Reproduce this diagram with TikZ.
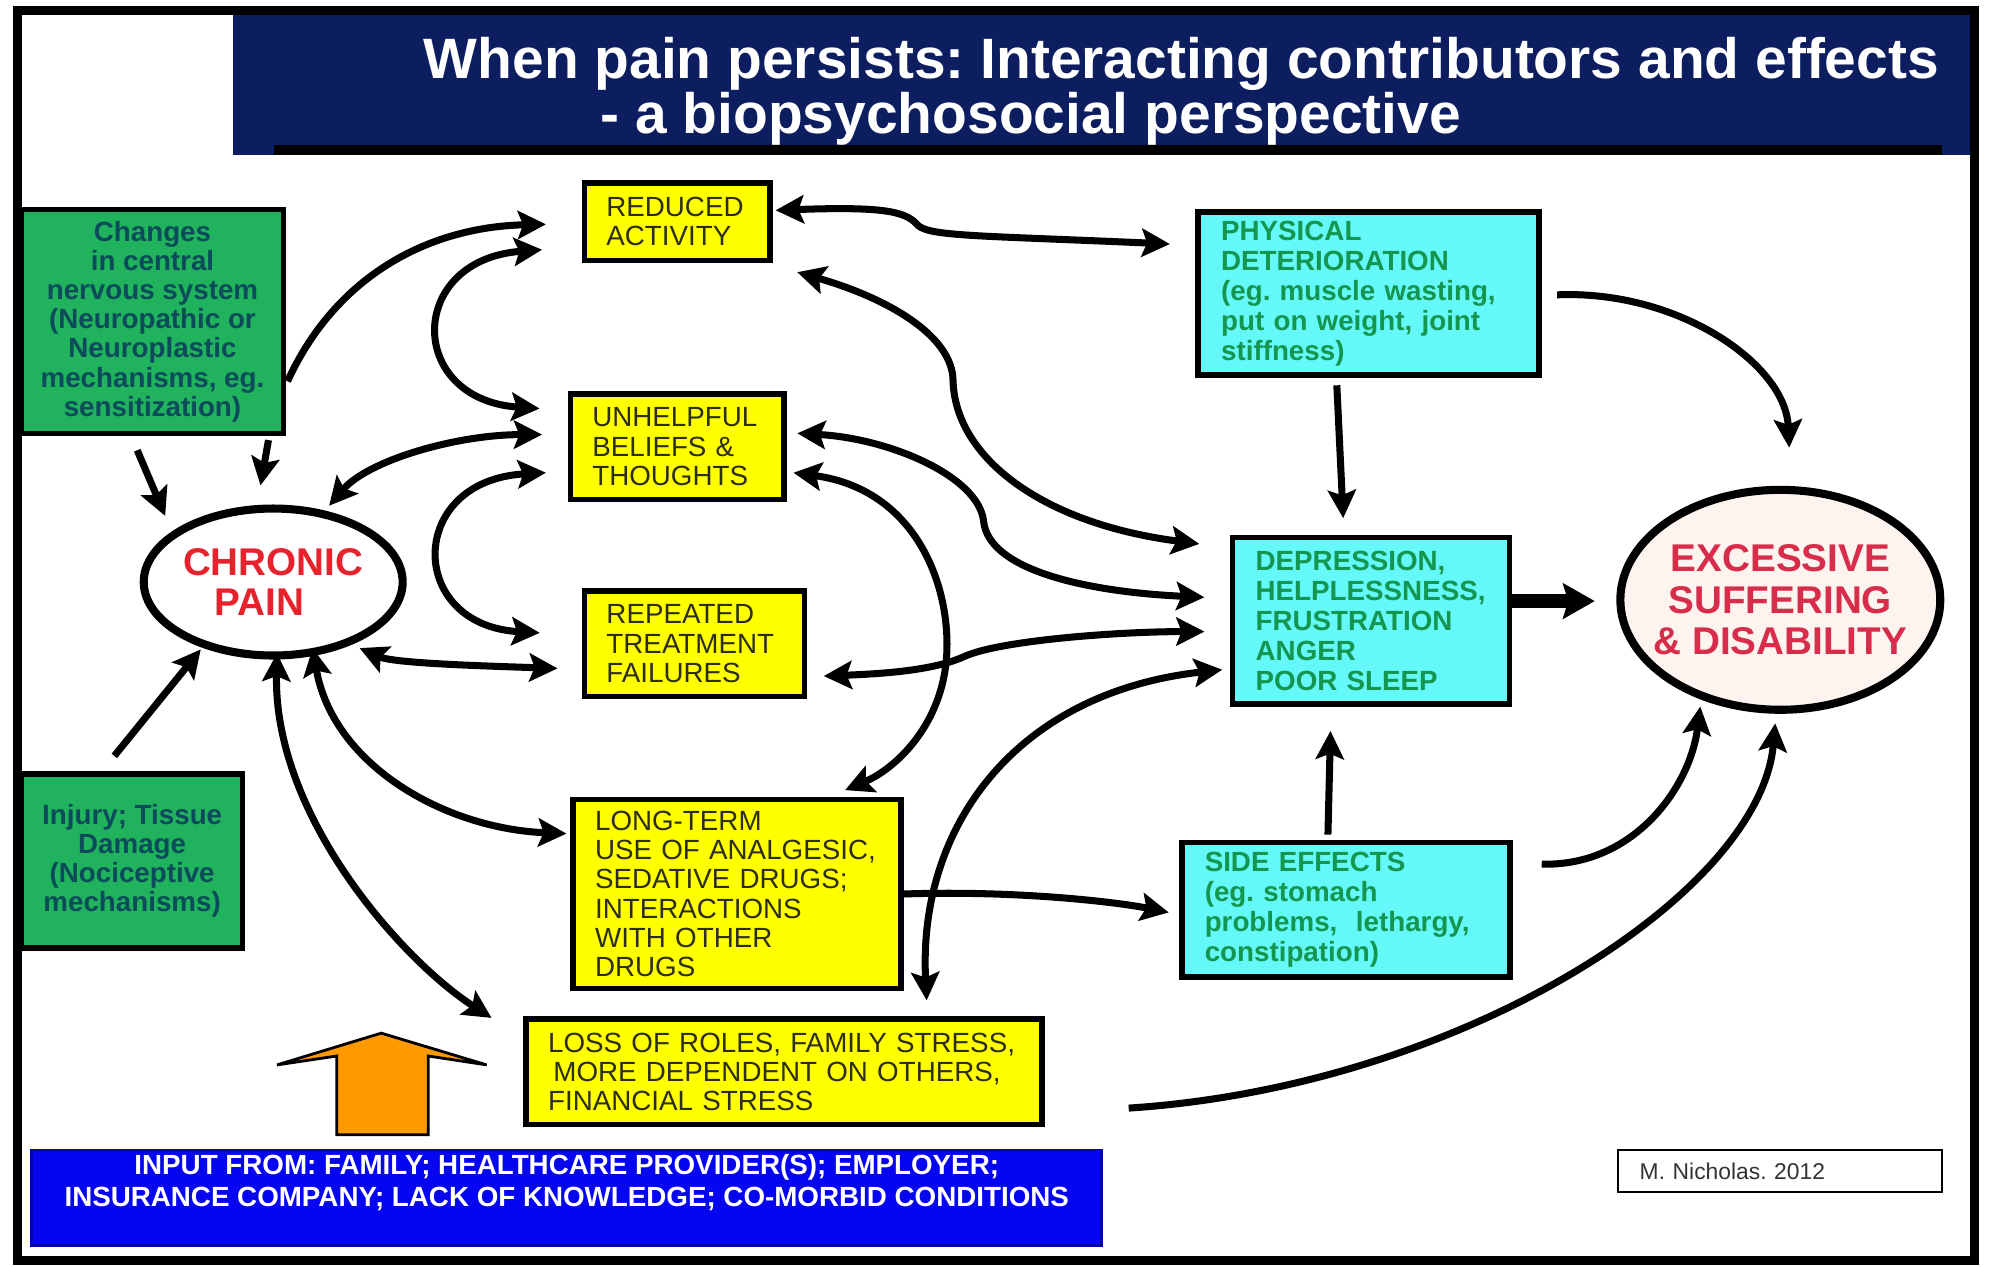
\documentclass[tikz,border=0pt]{standalone}
\usepackage{fontspec}
\setmainfont{Liberation Sans}
\usepackage{xcolor}
\usetikzlibrary{
    shapes.geometric,
    arrows.meta,
    calc
}
\frenchspacing

\definecolor{bannerblue}{RGB}{12,30,95}
\definecolor{boxgreen}{RGB}{32,178,92}
\definecolor{gtext}{RGB}{12,75,90}
\definecolor{boxyellow}{RGB}{255,255,0}
\definecolor{ytext}{RGB}{45,45,25}
\definecolor{boxcyan}{RGB}{100,248,248}
\definecolor{ctext}{RGB}{20,150,80}
\definecolor{painred}{RGB}{230,35,45}
\definecolor{excessred}{RGB}{215,45,75}
\definecolor{excessfill}{RGB}{253,244,240}
\definecolor{inputblue}{RGB}{5,5,240}
\definecolor{orangefill}{RGB}{255,153,0}

\begin{document}
\begin{tikzpicture}[
                x=0.01271cm, y=-0.01271cm,
                >={Stealth[length=8pt, width=8pt, inset=1.5pt]},
                ybox/.style={draw, line width=1.6pt, fill=boxyellow, text=ytext, align=left, inner xsep=0.22cm, inner ysep=0pt, font=\fontsize{7.9}{8.3}\selectfont},
                cbox/.style={draw, line width=1.6pt, fill=boxcyan, text=ctext, align=left, inner xsep=0.23cm, inner ysep=0pt, font=\bfseries\fontsize{7.9}{8.5}\selectfont},
                gbox/.style={draw, line width=1.6pt, fill=boxgreen, text=gtext, align=center, inner sep=0pt, font=\bfseries\fontsize{7.9}{8.3}\selectfont},
                oval/.style={draw, ellipse, line width=2.3pt, inner sep=0pt, font=\bfseries\fontsize{11}{11.6}\selectfont},
                arrow/.style={->, line width=2pt},
                darrow/.style={<->, line width=2pt}
            ]
                \useasboundingbox (0,0) rectangle (1566,997);
                \fill[white] (0,0) rectangle (1566,997);

                % Title banner
                \fill[bannerblue] (183,10) rectangle (1554,122);
                \fill[black] (216,114) rectangle (1528,122);
                \node[anchor=base west, inner sep=0pt, text=white, font=\bfseries\fontsize{16.2}{19}\selectfont] (title) at (333,62) {When pain persists: Interacting contributors and effects};
                \node[anchor=base west, inner sep=0pt, text=white, font=\bfseries\fontsize{16.2}{19}\selectfont] (subtitle) at (472,105) {- a biopsychosocial perspective};

                % Contributors
                \node[gbox, minimum width=2.62cm, minimum height=2.24cm] (cns) at (120,253) {Changes\\in central\\nervous system\\(Neuropathic or\\Neuroplastic\\mechanisms, eg.\\sensitization)};
                \node[gbox, minimum width=2.21cm, minimum height=1.74cm] (injury) at (104,677.5) {Injury; Tissue\\Damage\\(Nociceptive\\mechanisms)};

                % Chronic pain
                \node[oval, fill=white, text=painred, align=left, minimum width=2.59cm, minimum height=1.47cm] (chronic) at (215,458) {CHRONIC\\\hspace*{9pt}PAIN};

                % Yellow boxes
                \node[ybox, text width=1.42cm, minimum height=0.775cm] (reduced) at (533,174.5) {REDUCED\\ACTIVITY};
                \node[ybox, text width=1.70cm, minimum height=1.055cm] (unhelpful) at (533,351.5) {UNHELPFUL\\BELIEFS \&\\THOUGHTS};
                \node[ybox, text width=1.76cm, minimum height=1.055cm] (repeated) at (546.5,506.5) {REPEATED\\TREATMENT\\FAILURES};
                \node[ybox, text width=2.84cm, minimum height=1.894cm] (longterm) at (580,703.5) {LONG-TERM\\USE OF ANALGESIC,\\SEDATIVE DRUGS;\\INTERACTIONS\\WITH OTHER\\DRUGS};
                \node[ybox, text width=4.72cm, minimum height=1.055cm] (loss) at (617,843.5) {LOSS OF ROLES, FAMILY STRESS,\\\hspace*{1.5pt}MORE DEPENDENT ON OTHERS,\\FINANCIAL STRESS};

                % Cyan boxes
                \node[cbox, text width=2.95cm, minimum height=1.627cm] (physical) at (1077,231) {PHYSICAL\\DETERIORATION\\(eg. muscle wasting,\\put on weight, joint\\stiffness)};
                \node[cbox, text width=2.31cm, minimum height=1.665cm] (depression) at (1079,488.5) {DEPRESSION,\\HELPLESSNESS,\\FRUSTRATION\\ANGER\\POOR SLEEP};
                \node[cbox, text width=2.82cm, minimum height=1.347cm] (side) at (1059,716) {SIDE EFFECTS\\(eg. stomach\\problems, \ lethargy,\\constipation)};

                % Outcome
                \node[oval, fill=excessfill, minimum width=3.2cm, minimum height=2.2cm] (excess) at (1401,472) {};
                \node[align=center, text=excessred, font=\bfseries\fontsize{11}{11.75}\selectfont] (excesstxt) at (excess.center) {EXCESSIVE\\SUFFERING\\\& DISABILITY};

                % Input
                \node[draw=inputblue!75!black, line width=0.8pt, fill=inputblue, minimum width=10.7cm, minimum height=0.953cm] (input) at (446,942.5) {};
                \node[align=center, text=white, font=\bfseries\fontsize{7.9}{9}\selectfont] (inputtxt) at (446,930.5) {INPUT FROM: FAMILY; HEALTHCARE PROVIDER(S); EMPLOYER;\\INSURANCE COMPANY; LACK OF KNOWLEDGE; CO-MORBID CONDITIONS};
                \draw[fill=orangefill, line width=0.8pt] (300,813) -- (383,838) -- (337,831) -- (337,893) -- (265,893) -- (265,831) -- (218,838) -- cycle;

                % Credit
                \node[draw, line width=0.6pt, fill=white, text width=2.8cm, inner xsep=0.22cm, minimum height=0.42cm, align=left, text=black!80, font=\fontsize{6.5}{7}\selectfont] (credit) at (1400.5,921.5) {M. Nicholas. 2012};

                % Left side arrows
                \draw[arrow] ($(cns.east)+(1,47)$) .. controls +(39,-85) and +(-90,2) .. ($(reduced.west)+(-28,2)$);
                \draw[arrow] ($(cns.south east)+(-14,3)$) -- ($(chronic.north)+(-10,-15)$);
                \draw[arrow] ($(cns.south)+(-12,11)$) -- ($(chronic.center)+(-85,-52)$);
                \draw[arrow] ($(injury.north)+(-14,-12)$) -- ($(chronic.center)+(-57,53)$);
                \draw[darrow] ($(reduced.west)+(-31,22)$) .. controls +(-107,8) and +(-105,-7) .. ($(unhelpful.west)+(-22,-30)$);
                \draw[darrow] ($(chronic.center)+(44,-60)$) .. controls +(31,-36) and +(-67,0) .. ($(unhelpful.west)+(-20,-9.5)$);
                \draw[darrow] ($(unhelpful.west)+(-17,20.5)$) .. controls +(-110,6) and +(-105,-6) .. ($(repeated.west)+(-33,-8.5)$);
                \draw[darrow] ($(chronic.center)+(68,52)$) .. controls +(27,12) and +(-59,-2) .. ($(repeated.west)+(-19,19.5)$);
                \draw[darrow] ($(chronic.center)+(31,52)$) .. controls +(16,92) and +(-96,-4) .. ($(longterm.west)+(-3,-47.5)$);
                \draw[darrow] ($(chronic.center)+(3,56)$) .. controls +(-3,128) and +(-70,-45) .. ($(loss.west)+(-25,-42.5)$);

                % Middle arrows
                \draw[darrow] ($(reduced.east)+(2,-9)$) .. controls +(82,-3) and +(-9,-10) .. (721,176) .. controls +(8,10) and +(-160,-7) .. ($(physical.west)+(-20,-39)$);
                \draw[darrow] ($(reduced.south east)+(19,7)$) .. controls +(73,21) and +(0,-35) .. (750,300) .. controls +(2,60) and +(-124,-16) .. ($(depression.west)+(-24,-60.5)$);
                \draw[darrow] ($(unhelpful.east)+(8,-10.5)$) .. controls +(73,4) and +(-4,-35) .. (774,410) .. controls +(4,40) and +(-88,-4) .. ($(depression.west)+(-20,-18.5)$);
                \draw[darrow] ($(unhelpful.east)+(5,20.5)$) .. controls +(96,13) and +(3,-55) .. (745,515) .. controls +(-3,55) and +(40,-17) .. ($(longterm.north)+(85,-5)$);
                \draw[darrow] ($(repeated.east)+(13,25.5)$) .. controls +(52,-2) and +(-23,10) .. (758,517) .. controls +(27,-13) and +(-68,0) .. ($(depression.west)+(-20,8.5)$);
                \draw[darrow] ($(longterm.south east)+(18,7)$) .. controls +(-7,-137) and +(-162,18) .. ($(depression.west)+(-6,38.5)$);
                \draw[arrow] (longterm.east) .. controls +(90,-3) and +(-40,-8) .. ($(side.west)+(-8,2)$);

                % Right side arrows
                \draw[arrow] ($(physical.south)+(-25,6)$) -- ($(depression.north)+(-22,-13)$);
                \draw[arrow] ($(side.north)+(-14,-4)$) -- ($(depression.south)+(-32,19)$);
                \draw[->, line width=3.8pt, >={Stealth[length=9pt, width=10pt, inset=1.5pt]}] ($(depression.east)+(0,-15.5)$) -- ($(excess.west)+(-17,1)$);
                \draw[arrow] ($(physical.east)+(12,1)$) .. controls +(95,-4) and +(-3,-66) .. ($(excess.north)+(7,-30)$);
                \draw[arrow] ($(side.east)+(23,-36)$) .. controls +(72,2) and +(-8,64) .. ($(excess.center)+(-63,84)$);
                \draw[arrow] ($(loss.east)+(66,28.5)$) .. controls +(262,-17) and +(-12,134) .. ($(excess.south)+(-4,7.5)$);

                % Frame
                \draw[line width=2.5pt] (13.5,8.5) rectangle (1554,992);
            \end{tikzpicture}
\end{document}
